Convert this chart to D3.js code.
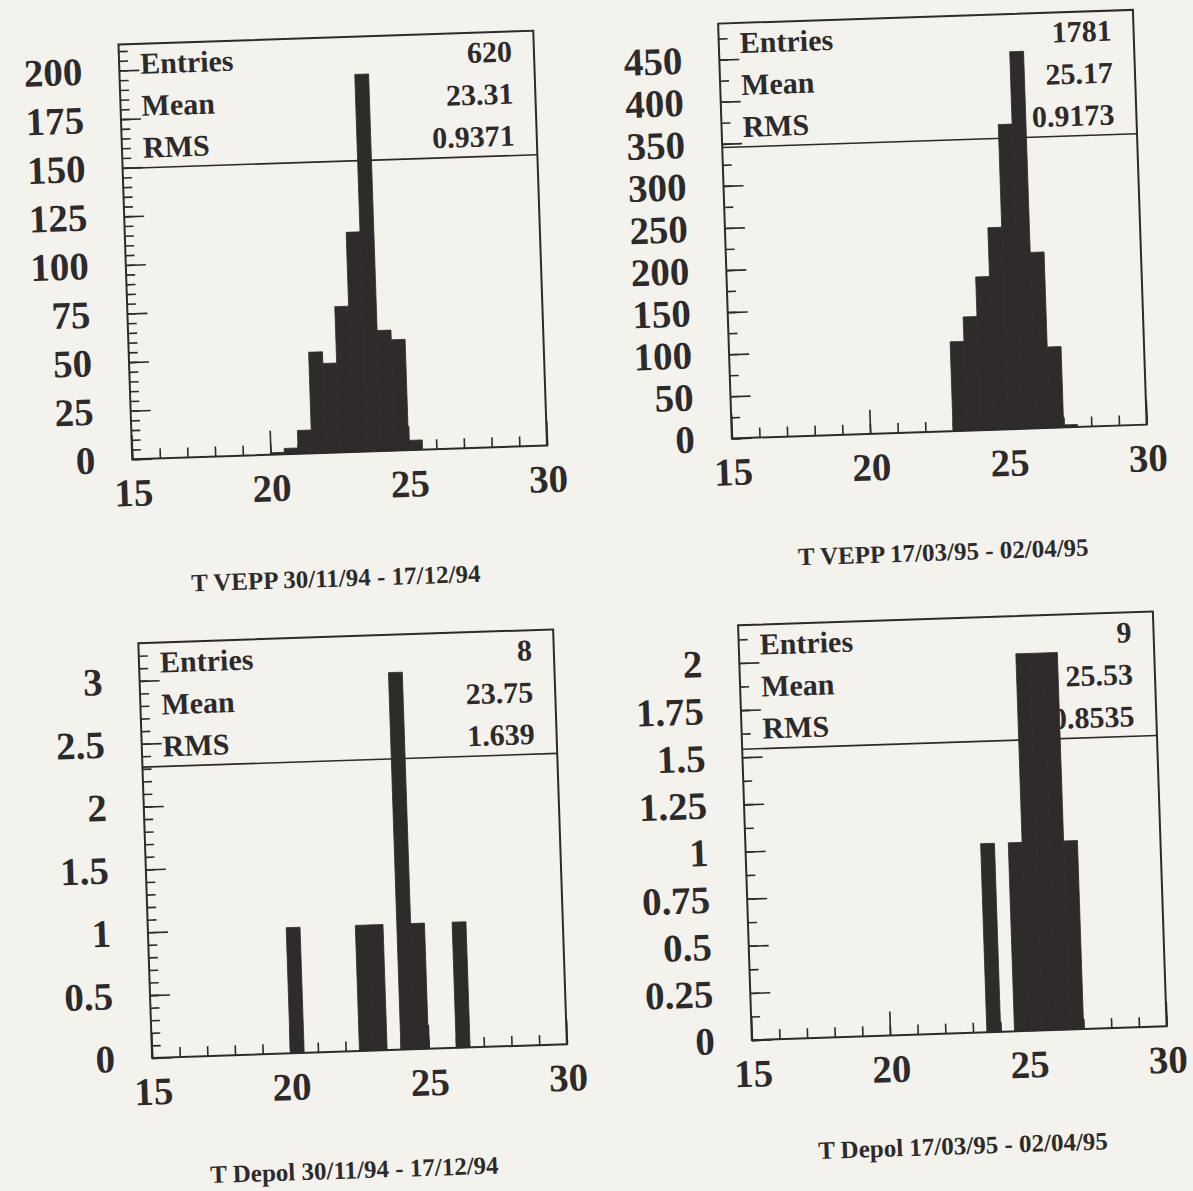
<!DOCTYPE html>
<html>
<head>
<meta charset="utf-8">
<script src="https://cdn.jsdelivr.net/npm/d3@7"></script>
<style>
  html, body { margin: 0; padding: 0; background: #f4f2ec; }
  svg { display: block; }
</style>
</head>
<body>
<svg id="page" width="1193" height="1191"></svg>
<script>
// Temperature histograms (°C), 0.5-degree bins; each bin is given by its lower edge.
const xDomain = [15, 30];
const binWidth = 0.5;
const xTickLabels = [15, 20, 25, 30];

const veppWinterBins   = [20, 20.5, 21, 21.5, 22, 22.5, 23, 23.5, 24, 24.5, 25];
const veppWinterCounts = [1, 3, 12, 52, 46, 75, 113, 194, 62, 57, 5];

const veppSpringBins   = [23, 23.5, 24, 24.5, 25, 25.5, 26, 26.5, 27];
const veppSpringCounts = [106, 135, 182, 240, 362, 448, 209, 96, 3];

const depolWinterBins   = [20, 22.5, 23, 24, 24.5, 26];
const depolWinterCounts = [1, 1, 1, 3, 1, 1];

const depolSpringBins   = [23.5, 24.5, 25, 25.5, 26, 26.5];
const depolSpringCounts = [1, 1, 2, 2, 2, 1];

// Statistics box
const statNames = ["Entries", "Mean", "RMS"];
const veppWinterStats  = ["620", "23.31", "0.9371"];
const veppSpringStats  = ["1781", "25.17", "0.9173"];
const depolWinterStats = ["8", "23.75", "1.639"];
const depolSpringStats = ["9", "25.53", "0.8535"];

// Y-axis tick labels and minor tick step
const veppWinterYTicks  = [0, 25, 50, 75, 100, 125, 150, 175, 200];
const veppSpringYTicks  = [0, 50, 100, 150, 200, 250, 300, 350, 400, 450];
const depolWinterYTicks = [0, 0.5, 1, 1.5, 2, 2.5, 3];
const depolSpringYTicks = [0, 0.25, 0.5, 0.75, 1, 1.25, 1.5, 1.75, 2];
const minorSteps = [5, 25, 0.1, 0.125];

const titles = [
  "T VEPP 30/11/94 - 17/12/94",
  "T VEPP 17/03/95 - 02/04/95",
  "T Depol 30/11/94 - 17/12/94",
  "T Depol 17/03/95 - 02/04/95"
];

// ---- layout ----
const S = 415;                       // frame side
const frames = [[137, 29], [737, 28], [137, 628], [737, 630]];
const titleCenters = [[-8, 578], [0, 572], [-9, 1170], [0, 1166]];
const ink = "#2c2a2a";
const barFill = "#2f2a2c";
const serif = "'Liberation Serif', 'Times New Roman', serif";

const panels = [
  { bins: veppWinterBins,  counts: veppWinterCounts,  stats: veppWinterStats,  yTicks: veppWinterYTicks },
  { bins: veppSpringBins,  counts: veppSpringCounts,  stats: veppSpringStats,  yTicks: veppSpringYTicks },
  { bins: depolWinterBins, counts: depolWinterCounts, stats: depolWinterStats, yTicks: depolWinterYTicks },
  { bins: depolSpringBins, counts: depolSpringCounts, stats: depolSpringStats, yTicks: depolSpringYTicks }
];

const svg = d3.select("#page");
const page = svg.append("g").attr("transform", "rotate(-1.9 596 595)");

function styleAxis(sel) {
  sel.select(".domain").remove();
  sel.selectAll(".tick line").attr("stroke", ink).attr("stroke-width", 1.6);
  sel.selectAll(".tick text")
    .attr("fill", ink)
    .style("font-family", serif)
    .style("font-weight", "bold")
    .style("font-size", "39px");
}

panels.forEach((p, i) => {
  const [fx, fy] = frames[i];
  const g = page.append("g").attr("transform", `translate(${fx},${fy})`);

  const x = d3.scaleLinear().domain(xDomain).range([0, S]);
  const yMax = 1.1 * d3.max(p.counts);
  const y = d3.scaleLinear().domain([0, yMax]).range([S, 0]);

  // statistics box
  const statLine = 124;
  g.append("line")
    .attr("x1", 0).attr("x2", S).attr("y1", statLine).attr("y2", statLine)
    .attr("stroke", ink).attr("stroke-width", 1.6);
  statNames.forEach((name, k) => {
    const ty = 30 + k * 42;
    g.append("text").attr("x", 21).attr("y", ty).text(name)
      .attr("fill", ink).style("font-family", serif).style("font-weight", "bold").style("font-size", "30px");
    g.append("text").attr("x", S - 22).attr("y", ty).attr("text-anchor", "end").text(p.stats[k])
      .attr("fill", ink).style("font-family", serif).style("font-weight", "bold").style("font-size", "30px");
  });

  // histogram bars
  const rows = p.bins.map((lo, k) => ({ lo, n: p.counts[k] }));
  g.append("g").selectAll("rect").data(rows).join("rect")
    .attr("x", d => x(d.lo))
    .attr("width", d => x(d.lo + binWidth) - x(d.lo))
    .attr("y", d => y(d.n))
    .attr("height", d => S - y(d.n))
    .attr("fill", barFill)
    .attr("stroke", barFill)
    .attr("stroke-width", 0.8);

  // y ticks, drawn inward from the left edge
  const minor = d3.range(0, yMax, minorSteps[i]);
  g.append("g").call(d3.axisRight(y).tickValues(minor).tickSize(9).tickFormat("")).call(styleAxis);
  g.append("g").call(d3.axisRight(y).tickValues(p.yTicks).tickSize(20).tickFormat("")).call(styleAxis);
  g.append("g").call(d3.axisLeft(y).tickValues(p.yTicks).tickSize(0).tickPadding(37).tickFormat(d => String(d)))
    .call(styleAxis);

  // x ticks, drawn upward from the bottom edge
  const xMinor = d3.range(xDomain[0], xDomain[1] + 0.001, 1);
  g.append("g").attr("transform", `translate(0,${S})`)
    .call(d3.axisTop(x).tickValues(xMinor).tickSize(10).tickFormat("")).call(styleAxis);
  g.append("g").attr("transform", `translate(0,${S})`)
    .call(d3.axisTop(x).tickValues(xTickLabels).tickSize(24).tickFormat("")).call(styleAxis);
  g.append("g").attr("transform", `translate(0,${S})`)
    .call(d3.axisBottom(x).tickValues(xTickLabels).tickSize(0).tickPadding(19).tickFormat(d => String(d)))
    .call(styleAxis);

  // frame
  g.append("rect").attr("width", S).attr("height", S)
    .attr("fill", "none").attr("stroke", ink).attr("stroke-width", 2);

  // title under the frame
  page.append("text")
    .attr("x", fx + S / 2 + titleCenters[i][0])
    .attr("y", titleCenters[i][1])
    .attr("text-anchor", "middle")
    .text(titles[i])
    .attr("fill", ink).style("font-family", serif).style("font-weight", "bold").style("font-size", "25px");
});
</script>
</body>
</html>
